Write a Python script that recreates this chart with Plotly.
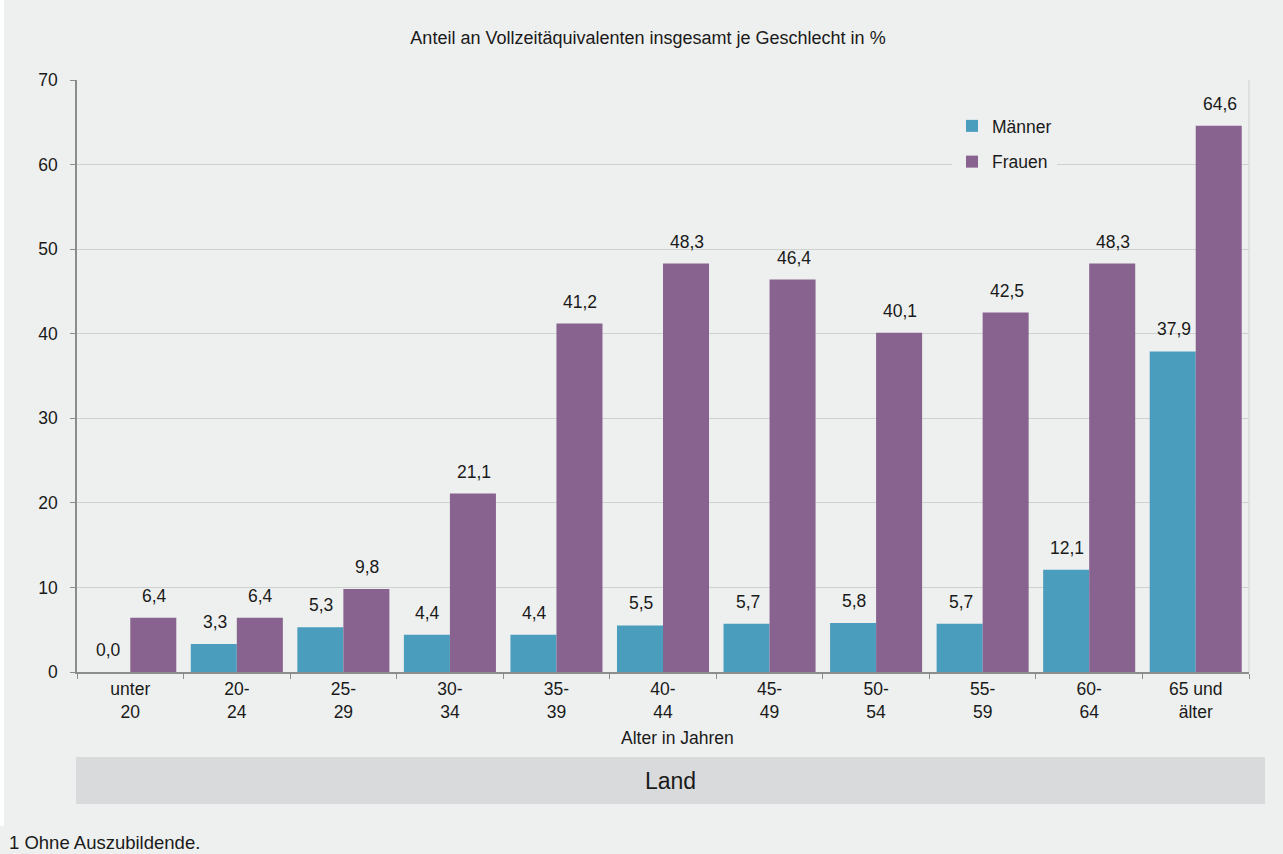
import plotly.graph_objects as go

categories = ["unter<br>20", "20-<br>24", "25-<br>29", "30-<br>34", "35-<br>39", "40-<br>44",
              "45-<br>49", "50-<br>54", "55-<br>59", "60-<br>64", "65 und<br>älter"]
maenner = [0.0, 3.3, 5.3, 4.4, 4.4, 5.5, 5.7, 5.8, 5.7, 12.1, 37.9]
frauen = [6.4, 6.4, 9.8, 21.1, 41.2, 48.3, 46.4, 40.1, 42.5, 48.3, 64.6]

BG = "#eef0ef"
FONT = "Liberation Sans, Arial, sans-serif"
TXT = "#1a1a1a"
FS = 17.5

W, H = 1283, 854
L, R, T, B = 77, 34, 80, 182
PW, PH = W - L - R, H - T - B
BARGAP = 0.136
cat_w = PW / len(categories)
half = cat_w * (1 - BARGAP) / 4

fig = go.Figure()
fig.add_trace(go.Bar(x=categories, y=maenner, name="Männer", marker_color="#4b9dbe",
                     marker_line_width=0, legendgroup="m"))
fig.add_trace(go.Bar(x=categories, y=frauen, name="Frauen", marker_color="#89638f",
                     marker_line_width=0, legendgroup="f"))

# value labels
for vals, shift in ((maenner, -half), (frauen, half)):
    for c, v in zip(categories, vals):
        fig.add_annotation(x=c, y=v, xref="x", yref="y", text=f"{v:.1f}".replace(".", ","),
                           showarrow=False, xshift=shift + 1, yshift=22,
                           xanchor="center", yanchor="middle",
                           font=dict(size=FS, color=TXT))

fig.update_layout(
    width=W, height=H,
    margin=dict(l=L, r=R, t=T, b=B),
    paper_bgcolor=BG, plot_bgcolor=BG,
    font=dict(family=FONT, size=FS, color=TXT),
    separators=",.",
    barmode="group", bargap=BARGAP, bargroupgap=0,
    title=dict(text="Anteil an Vollzeitäquivalenten insgesamt je Geschlecht in %",
               x=648 / W, xref="container", xanchor="center", y=1 - 38 / H, yanchor="middle",
               font=dict(size=18, color=TXT)),
    legend=dict(x=(952 - L) / PW, y=(672 - 108) / PH, xanchor="left", yanchor="top", bgcolor=BG,
                traceorder="grouped", tracegroupgap=10, font=dict(size=FS),
                itemclick=False),
    showlegend=True,
)
fig.update_xaxes(showline=True, linecolor="#8c8c8c", linewidth=1.5,
                 ticks="outside", tickson="boundaries", ticklen=5, tickcolor="#8c8c8c",
                 tickfont=dict(size=FS), showgrid=False)
fig.update_yaxes(range=[0, 70], dtick=10, showline=True, linecolor="#8c8c8c", linewidth=1.5,
                 ticks="outside", ticklen=5, tickcolor="#8c8c8c", ticklabelstandoff=9,
                 gridcolor="#cfd1d1", gridwidth=1, zeroline=False,
                 tickfont=dict(size=FS))

# right border of plot area
fig.add_shape(type="line", xref="paper", yref="paper", x0=1, x1=1, y0=0, y1=1,
              line=dict(color="#cfd1d1", width=1))
# white strip at left edge
fig.add_shape(type="rect", xref="paper", yref="paper", x0=-L / PW, x1=-(L - 4) / PW,
              y0=-(826 - T - PH) / PH, y1=1 + T / PH, fillcolor="white", line_width=0,
              layer="below")
# x axis title
fig.add_annotation(text="Alter in Jahren", xref="paper", yref="paper",
                   x=(677 - L) / PW, y=-(738 - T - PH) / PH, showarrow=False,
                   font=dict(size=FS, color=TXT), xanchor="center", yanchor="middle")
# "Land" band
fig.add_shape(type="rect", xref="paper", yref="paper", x0=-1 / PW, x1=(1265 - L) / PW,
              y0=-(804 - T - PH) / PH, y1=-(757 - T - PH) / PH, fillcolor="#d9dadc",
              line_width=0, layer="below")
fig.add_annotation(text="Land", xref="paper", yref="paper", x=(670 - L) / PW,
                   y=-(781 - T - PH) / PH, showarrow=False,
                   font=dict(size=23, color=TXT), xanchor="center", yanchor="middle")
# footnote
fig.add_annotation(text="1 Ohne Auszubildende.", xref="paper", yref="paper",
                   x=-(L - 7) / PW, y=-(842 - T - PH) / PH, showarrow=False,
                   font=dict(size=18.5, color=TXT), xanchor="left", yanchor="middle")

fig.write_html("out.html", post_script="document.body.style.margin='0';",
               config={"displayModeBar": False})
